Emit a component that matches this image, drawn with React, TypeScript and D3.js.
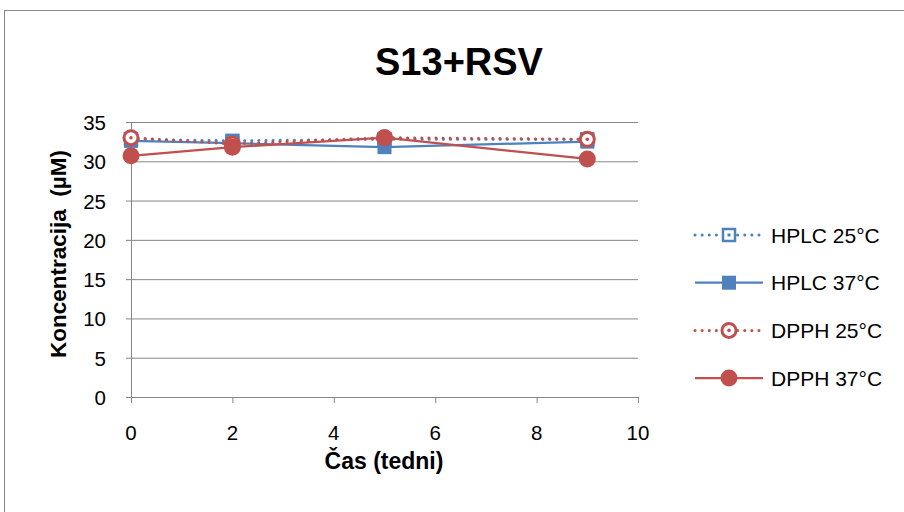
import React from "react";
import * as d3 from "d3";

const weeks = [0, 2, 5, 9];
const hplc25 = [32.8, 32.6, 32.8, 32.8];
const hplc37 = [32.6, 32.3, 31.8, 32.5];
const dpph25 = [33.0, 32.2, 33.0, 32.8];
const dpph37 = [30.7, 31.8, 33.0, 30.3];
const seriesNames = ["HPLC 25°C", "HPLC 37°C", "DPPH 25°C", "DPPH 37°C"];
const xTicks = [0, 2, 4, 6, 8, 10];
const yTicks = [0, 5, 10, 15, 20, 25, 30, 35];

const BLUE = "#4f81bd";
const RED = "#c0504d";
const FONT = "'Liberation Sans', Arial, sans-serif";

type S = { name: string; vals: number[]; color: string; dashed: boolean; filled: boolean; shape: "square" | "circle" };

const series: S[] = [
  { name: seriesNames[0], vals: hplc25, color: BLUE, dashed: true, filled: false, shape: "square" },
  { name: seriesNames[1], vals: hplc37, color: BLUE, dashed: false, filled: true, shape: "square" },
  { name: seriesNames[2], vals: dpph25, color: RED, dashed: true, filled: false, shape: "circle" },
  { name: seriesNames[3], vals: dpph37, color: RED, dashed: false, filled: true, shape: "circle" },
];

function Marker({ s, cx, cy }: { s: S; cx: number; cy: number }) {
  if (s.shape === "square") {
    if (s.filled) return <rect x={cx - 7} y={cy - 7} width={14} height={14} fill={s.color} />;
    return (
      <g>
        <rect x={cx - 6} y={cy - 6} width={12} height={12} fill="white" stroke={s.color} strokeWidth={2.5} />
        <rect x={cx - 1.5} y={cy - 1.5} width={3} height={3} fill={s.color} />
      </g>
    );
  }
  if (s.filled) return <circle cx={cx} cy={cy} r={8.5} fill={s.color} />;
  return (
    <g>
      <circle cx={cx} cy={cy} r={7} fill="white" stroke={s.color} strokeWidth={3} />
      <circle cx={cx} cy={cy} r={1.8} fill={s.color} />
    </g>
  );
}

export default function App() {
  const W = 904, H = 512;
  const x = d3.scaleLinear().domain([0, 10]).range([131, 638]);
  const y = d3.scaleLinear().domain([0, 35]).range([397, 122]);
  const line = d3.line<[number, number]>().x(d => x(d[0])).y(d => y(d[1]));

  return (
    <svg width={W} height={H} style={{ position: "absolute", left: 0, top: 0 }}>
      <rect x={0} y={0} width={W} height={H} fill="white" />
      <rect x={4.5} y={10.5} width={W + 10} height={H + 10} fill="white" stroke="#898989" strokeWidth={1} />
      <text x={459} y={75} textAnchor="middle" fontFamily={FONT} fontWeight="bold" fontSize={38}>S13+RSV</text>
      {yTicks.map(t => (
        <g key={t}>
          {t > 0 && <line x1={x(0)} x2={x(10)} y1={y(t) + 0.5} y2={y(t) + 0.5} stroke="#868686" strokeWidth={1} />}
          <line x1={x(0) - 5} x2={x(0)} y1={y(t) + 0.5} y2={y(t) + 0.5} stroke="#868686" />
          <text x={x(0) - 25} y={y(t) + 8} textAnchor="end" fontFamily={FONT} fontSize={20.5}>{t}</text>
        </g>
      ))}
      <line x1={x(0) + 0.5} x2={x(0) + 0.5} y1={y(35)} y2={y(0)} stroke="#868686" />
      <line x1={x(0)} x2={x(10)} y1={y(0) + 0.5} y2={y(0) + 0.5} stroke="#868686" />
      {xTicks.map(t => (
        <g key={t}>
          <line x1={x(t) + 0.5} x2={x(t) + 0.5} y1={y(0)} y2={y(0) + 6} stroke="#868686" />
          <text x={x(t)} y={y(0) + 43} textAnchor="middle" fontFamily={FONT} fontSize={20.5}>{t}</text>
        </g>
      ))}
      <text x={384} y={469} textAnchor="middle" fontFamily={FONT} fontWeight="bold" fontSize={23}>Čas (tedni)</text>
      <text transform={`translate(66,254) rotate(-90)`} textAnchor="middle" fontFamily={FONT} fontWeight="bold" fontSize={22.5} style={{ whiteSpace: "pre" }}>{"Koncentracija\u00a0 (µM)"}</text>
      {series.map(s => {
        const pts = weeks.map((w, i) => [w, s.vals[i]] as [number, number]);
        return (
          <g key={s.name}>
            <path d={line(pts) || ""} fill="none" stroke={s.color} strokeWidth={s.dashed ? 3 : 2.25}
              strokeDasharray={s.dashed ? "0.1 7" : undefined} strokeLinecap={s.dashed ? "round" : "butt"} />
            {pts.map((p, i) => <Marker key={i} s={s} cx={x(p[0])} cy={y(p[1])} />)}
          </g>
        );
      })}
      {series.map((s, i) => {
        const ly = 235 + i * 47.7;
        return (
          <g key={s.name}>
            <line x1={695} x2={763} y1={ly} y2={ly} stroke={s.color} strokeWidth={s.dashed ? 3 : 2.25}
              strokeDasharray={s.dashed ? "0.1 7" : undefined} strokeLinecap={s.dashed ? "round" : "butt"} />
            <Marker s={s} cx={729} cy={ly} />
            <text x={771} y={ly + 7.5} fontFamily={FONT} fontSize={21}>{s.name}</text>
          </g>
        );
      })}
    </svg>
  );
}
